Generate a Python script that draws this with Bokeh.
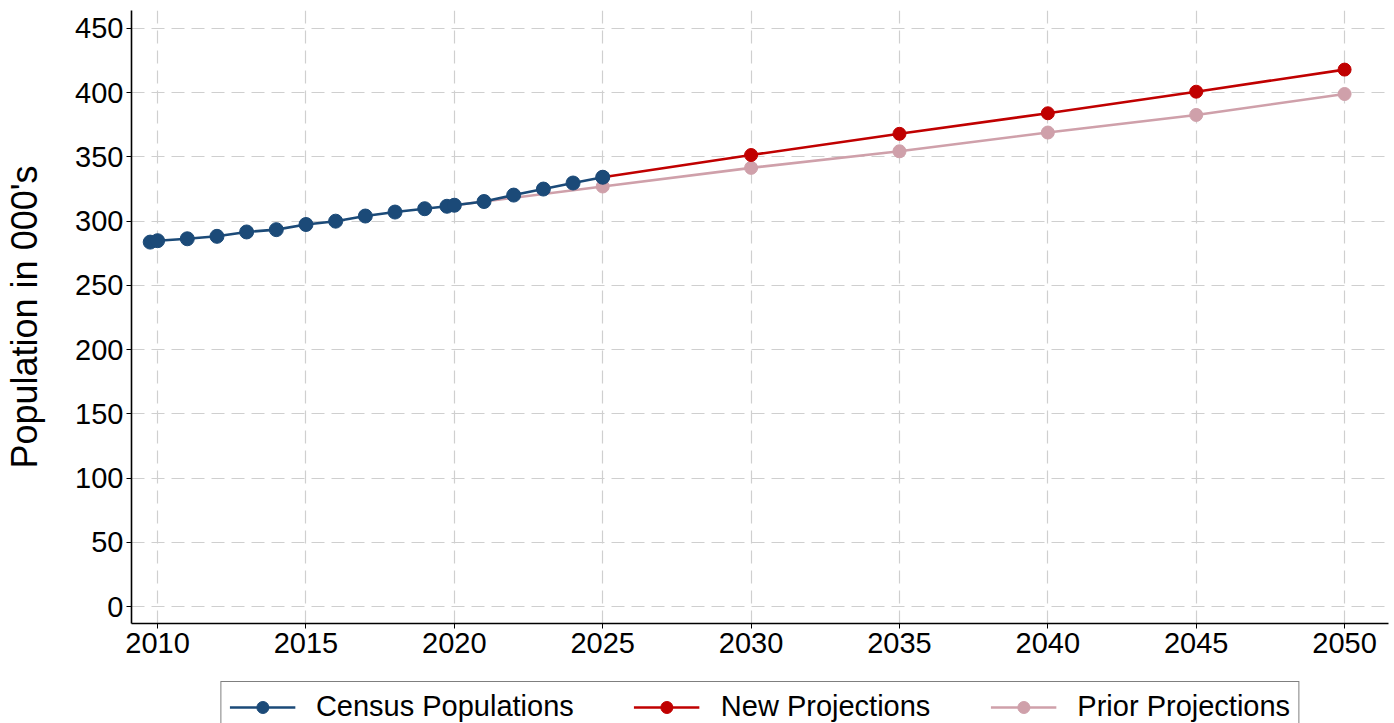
from bokeh.plotting import figure
from bokeh.models import Range1d, FixedTicker, Legend, LegendItem
from bokeh.layouts import column
from bokeh.embed import file_html
from bokeh.resources import INLINE

# ---- data ----
census_years = [2009.75, 2010, 2011, 2012, 2013, 2014, 2015, 2016, 2017, 2018,
                2019, 2019.75, 2020, 2021, 2022, 2023, 2024, 2025]
census_pop = [283.7, 284.8, 286.3, 288.2, 291.6, 293.4, 297.4, 300.0, 304.0, 307.1,
              309.7, 311.6, 312.4, 315.3, 320.3, 325.0, 329.7, 334.2]

new_years = [2025, 2030, 2035, 2040, 2045, 2050]
new_pop = [334.2, 351.5, 368.0, 384.0, 400.8, 418.0]

prior_years = [2020, 2025, 2030, 2035, 2040, 2045, 2050]
prior_pop = [312.4, 327.0, 341.5, 354.4, 369.0, 382.7, 399.0]

x_ticks = [2010, 2015, 2020, 2025, 2030, 2035, 2040, 2045, 2050]
y_ticks = [0, 50, 100, 150, 200, 250, 300, 350, 400, 450]

series_names = ["Census Populations", "New Projections", "Prior Projections"]

BLUE = "#1b4a78"
RED = "#c00000"
PINK = "#cfa0aa"
FONT = "Liberation Sans"

p = figure(width=1394, height=673, output_backend="svg", toolbar_location=None,
           x_range=Range1d(2009.12, 2051.48), y_range=Range1d(-13.2, 464.0),
           min_border_left=131, min_border_right=6, min_border_top=10,
           min_border_bottom=50)
p.outline_line_color = None
p.background_fill_color = "white"
p.border_fill_color = "white"

# prior projections
p.line(prior_years, prior_pop, line_color=PINK, line_width=2.6)
p.scatter(prior_years, prior_pop, size=13, fill_color=PINK, line_color=PINK)
# new projections
p.line(new_years, new_pop, line_color=RED, line_width=2.6)
p.scatter(new_years, new_pop, size=13, fill_color=RED, line_color=RED)
# census
p.line(census_years, census_pop, line_color=BLUE, line_width=2.6)
p.scatter(census_years, census_pop, size=14, fill_color=BLUE, line_color=BLUE)

# axes
for ax in (p.xaxis[0], p.yaxis[0]):
    ax.axis_line_color = "black"
    ax.axis_line_width = 1.6
    ax.major_tick_line_color = "black"
    ax.major_tick_in = 0
    ax.major_tick_out = 5
    ax.minor_tick_line_color = None
    ax.major_label_text_font = FONT
    ax.major_label_text_font_size = "29px"
    ax.major_label_text_color = "black"

p.xaxis.ticker = FixedTicker(ticks=x_ticks)
p.yaxis.ticker = FixedTicker(ticks=y_ticks)
p.xaxis.major_label_standoff = 4
p.yaxis.major_label_standoff = 3

p.yaxis.axis_label = "Population in 000's"
p.yaxis.axis_label_text_font = FONT
p.yaxis.axis_label_text_font_size = "36px"
p.yaxis.axis_label_text_font_style = "normal"
p.yaxis.axis_label_text_color = "black"
p.yaxis.axis_label_standoff = 27

# grids
for g in (p.xgrid[0], p.ygrid[0]):
    g.grid_line_color = "#cfcfcf"
    g.grid_line_width = 1.2
    g.grid_line_dash = "13 7"
p.xgrid.ticker = FixedTicker(ticks=x_ticks)
p.ygrid.ticker = FixedTicker(ticks=y_ticks)

# ---- legend strip below the chart ----
q = figure(width=1394, height=50, output_backend="svg", toolbar_location=None,
           x_range=Range1d(0, 1), y_range=Range1d(0, 1),
           min_border_left=131, min_border_right=6, min_border_top=0,
           min_border_bottom=0)
q.outline_line_color = None
q.axis.visible = False
q.xgrid.visible = False
q.ygrid.visible = False
q.border_fill_color = "white"

items = []
for name, col, sz in zip(series_names, [BLUE, RED, PINK], [14, 13, 13]):
    # one point far outside the visible range, only so the legend has a glyph
    ln = q.line([-5, -4], [-5, -5], line_color=col, line_width=2.6)
    sc = q.scatter([-5], [-5], size=sz, fill_color=col, line_color=col)
    items.append(LegendItem(label=name, renderers=[ln, sc]))

legend = Legend(items=items, orientation="horizontal", location="top_center")
legend.label_text_font = FONT
legend.label_text_font_size = "29px"
legend.label_text_color = "black"
legend.glyph_width = 66
legend.glyph_height = 30
legend.label_height = 30
legend.label_standoff = 21
legend.spacing = 60
legend.padding = 8
legend.margin = 8
legend.border_line_color = "black"
legend.border_line_width = 1.5
legend.background_fill_color = "white"
legend.background_fill_alpha = 1.0
q.add_layout(legend, "center")

layout = column(p, q, spacing=0)
open("out.html", "w").write(file_html(layout, INLINE))
